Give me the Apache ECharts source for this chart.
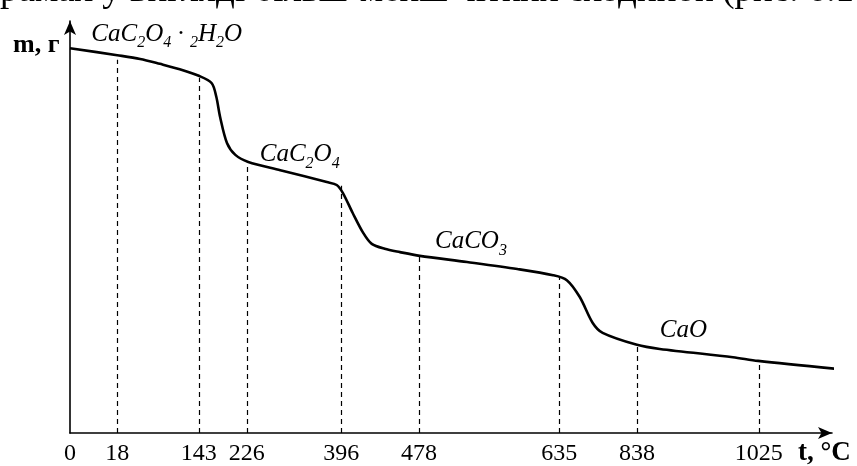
<!DOCTYPE html>
<html>
<head>
<meta charset="utf-8">
<script src="https://cdn.jsdelivr.net/npm/echarts@6/dist/echarts.min.js"></script>
<style>
  html, body { margin: 0; padding: 0; background: #fff; }
  #chart { width: 857px; height: 466px; }
</style>
</head>
<body>
<div id="chart"></div>
<script>
// mass curve; x = position along the (non-linear) t axis, 0..100
var curveX = [0, 6.2, 9.2, 11.8, 14.4, 16.9, 18.6, 19.2, 19.7, 20.6, 21.7, 23.4, 27.6, 33.7, 35.0, 35.8, 37.1, 38.5, 39.6, 41.3, 43.3, 45.9, 52.1, 58.7, 63.4, 65.2, 66.9, 68.6, 69.9, 74.4, 77.4, 87.0, 90.3, 101.0];
var curveM = [93.4, 91.7, 90.8, 89.6, 88.3, 86.7, 84.9, 81.6, 76.7, 70.4, 67.5, 65.8, 63.8, 60.9, 60.2, 58.3, 53.4, 48.5, 45.9, 44.7, 43.9, 43.0, 41.5, 39.8, 38.3, 37.1, 33.0, 26.7, 24.3, 21.4, 20.4, 18.4, 17.5, 15.5];

// temperature marks and where they sit on the axis
var tickPos = [0, 6.2, 16.9, 23.2, 35.6, 45.8, 64.2, 74.4, 90.4];
var tickLabels = ['0', '18', '143', '226', '396', '478', '635', '838', '1025'];
// height of the curve above each dashed line
var dropTop = [null, 90.6, 86.2, 65.8, 60.0, 43.0, 37.9, 21.4, 17.5];

var phaseNames = [
  '{m|CaC}{s|2}{m|O}{s|4}{m| · }{s|2}{m|H}{s|2}{m|O}',
  '{m|CaC}{s|2}{m|O}{s|4}',
  '{m|CaCO}{s|3}',
  '{m|CaO}'
];

var serif = '"Liberation Serif", "DejaVu Serif", serif';

var chart = echarts.init(document.getElementById('chart'));

var curveData = curveX.map(function (x, i) { return [x, curveM[i]]; });

var drops = [];
for (var i = 1; i < tickPos.length; i++) {
  drops.push([{ coord: [tickPos[i], 0] }, { coord: [tickPos[i], dropTop[i]] }]);
}

var phaseAt = [[2.8, 96.7], [24.9, 67.5], [47.9, 46.4], [77.4, 25.0]];

var richStyle = {
  m: { fontFamily: serif, fontStyle: 'italic', fontSize: 25, lineHeight: 26, color: '#000' },
  s: { fontFamily: serif, fontStyle: 'italic', fontSize: 16, lineHeight: 16, padding: [17, 0, 0, 0], color: '#000' }
};

chart.setOption({
  animation: false,
  backgroundColor: '#fff',
  grid: { left: 70, right: 25, top: 21, bottom: 33 },
  xAxis: {
    type: 'value',
    min: 0,
    max: 100,
    splitLine: { show: false },
    axisTick: { show: false },
    axisLine: {
      show: true,
      symbol: ['none', 'arrow'],
      symbolSize: [9, 14],
      lineStyle: { color: '#000', width: 1.6 }
    },
    axisLabel: {
      customValues: tickPos,
      margin: 9,
      fontFamily: serif,
      fontSize: 24,
      color: '#000',
      formatter: function (v) {
        var best = 0;
        for (var k = 1; k < tickPos.length; k++) {
          if (Math.abs(tickPos[k] - v) < Math.abs(tickPos[best] - v)) best = k;
        }
        return tickLabels[best];
      }
    }
  },
  yAxis: {
    type: 'value',
    min: 0,
    max: 100,
    splitLine: { show: false },
    axisTick: { show: false },
    axisLabel: { show: false },
    axisLine: {
      show: true,
      symbol: ['none', 'arrow'],
      symbolSize: [9, 14],
      lineStyle: { color: '#000', width: 1.6 }
    }
  },
  graphic: [
    {
      type: 'text', left: 0, top: -27,
      style: { text: 'рамах у вигляді більш-менш чітких сходинок (рис. 6.1', font: '37px ' + serif, fill: '#000' }
    },
    {
      type: 'text', left: 13, top: 32,
      style: { text: 'm, г', font: 'bold 26px ' + serif, fill: '#000' }
    },
    {
      type: 'text', left: 798, top: 440,
      style: { text: 't, °C', font: 'bold 27px ' + serif, fill: '#000' }
    }
  ],
  series: [{
    type: 'line',
    data: curveData,
    smooth: 0.3,
    clip: false,
    symbol: 'none',
    lineStyle: { color: '#000', width: 2.6 },
    markLine: {
      silent: true,
      symbol: 'none',
      label: { show: false },
      lineStyle: { color: '#000', width: 1.2, type: [5, 4] },
      data: drops
    },
    markPoint: {
      silent: true,
      symbolSize: 0,
      data: phaseAt.map(function (c, i) {
        return {
          coord: c,
          label: {
            show: true,
            position: 'right',
            distance: 0,
            formatter: phaseNames[i],
            rich: richStyle
          }
        };
      })
    }
  }]
});
</script>
</body>
</html>
